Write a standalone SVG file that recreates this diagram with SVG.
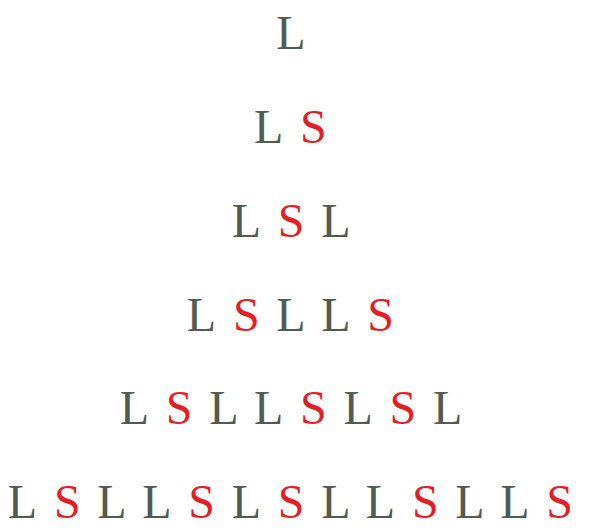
<svg xmlns="http://www.w3.org/2000/svg" width="591" height="531" viewBox="0 0 591 531">
<style>
text{font-family:"Liberation Serif","Times New Roman",serif;font-size:48px;text-anchor:middle}
.L{fill:#505b52}
.S{fill:#e51d25}
</style>
<rect width="591" height="531" fill="#fff"/>
<g id="row1"><text class="L" x="291" y="49">L</text></g>
<g id="row2"><text class="L" x="268.6" y="143">L</text><text class="S" x="313.4" y="143">S</text></g>
<g id="row3"><text class="L" x="246.3" y="237">L</text><text class="S" x="291" y="237">S</text><text class="L" x="335.8" y="237">L</text></g>
<g id="row4"><text class="L" x="201.5" y="331">L</text><text class="S" x="246.3" y="331">S</text><text class="L" x="291" y="331">L</text><text class="L" x="335.8" y="331">L</text><text class="S" x="380.5" y="331">S</text></g>
<g id="row5"><text class="L" x="134.4" y="424">L</text><text class="S" x="179.1" y="424">S</text><text class="L" x="223.9" y="424">L</text><text class="L" x="268.6" y="424">L</text><text class="S" x="313.4" y="424">S</text><text class="L" x="358.1" y="424">L</text><text class="S" x="402.9" y="424">S</text><text class="L" x="447.6" y="424">L</text></g>
<g id="row6"><text class="L" x="22.5" y="518">L</text><text class="S" x="67.3" y="518">S</text><text class="L" x="112" y="518">L</text><text class="L" x="156.8" y="518">L</text><text class="S" x="201.5" y="518">S</text><text class="L" x="246.3" y="518">L</text><text class="S" x="291" y="518">S</text><text class="L" x="335.8" y="518">L</text><text class="L" x="380.5" y="518">L</text><text class="S" x="425.3" y="518">S</text><text class="L" x="470" y="518">L</text><text class="L" x="514.8" y="518">L</text><text class="S" x="559.5" y="518">S</text></g>
</svg>
